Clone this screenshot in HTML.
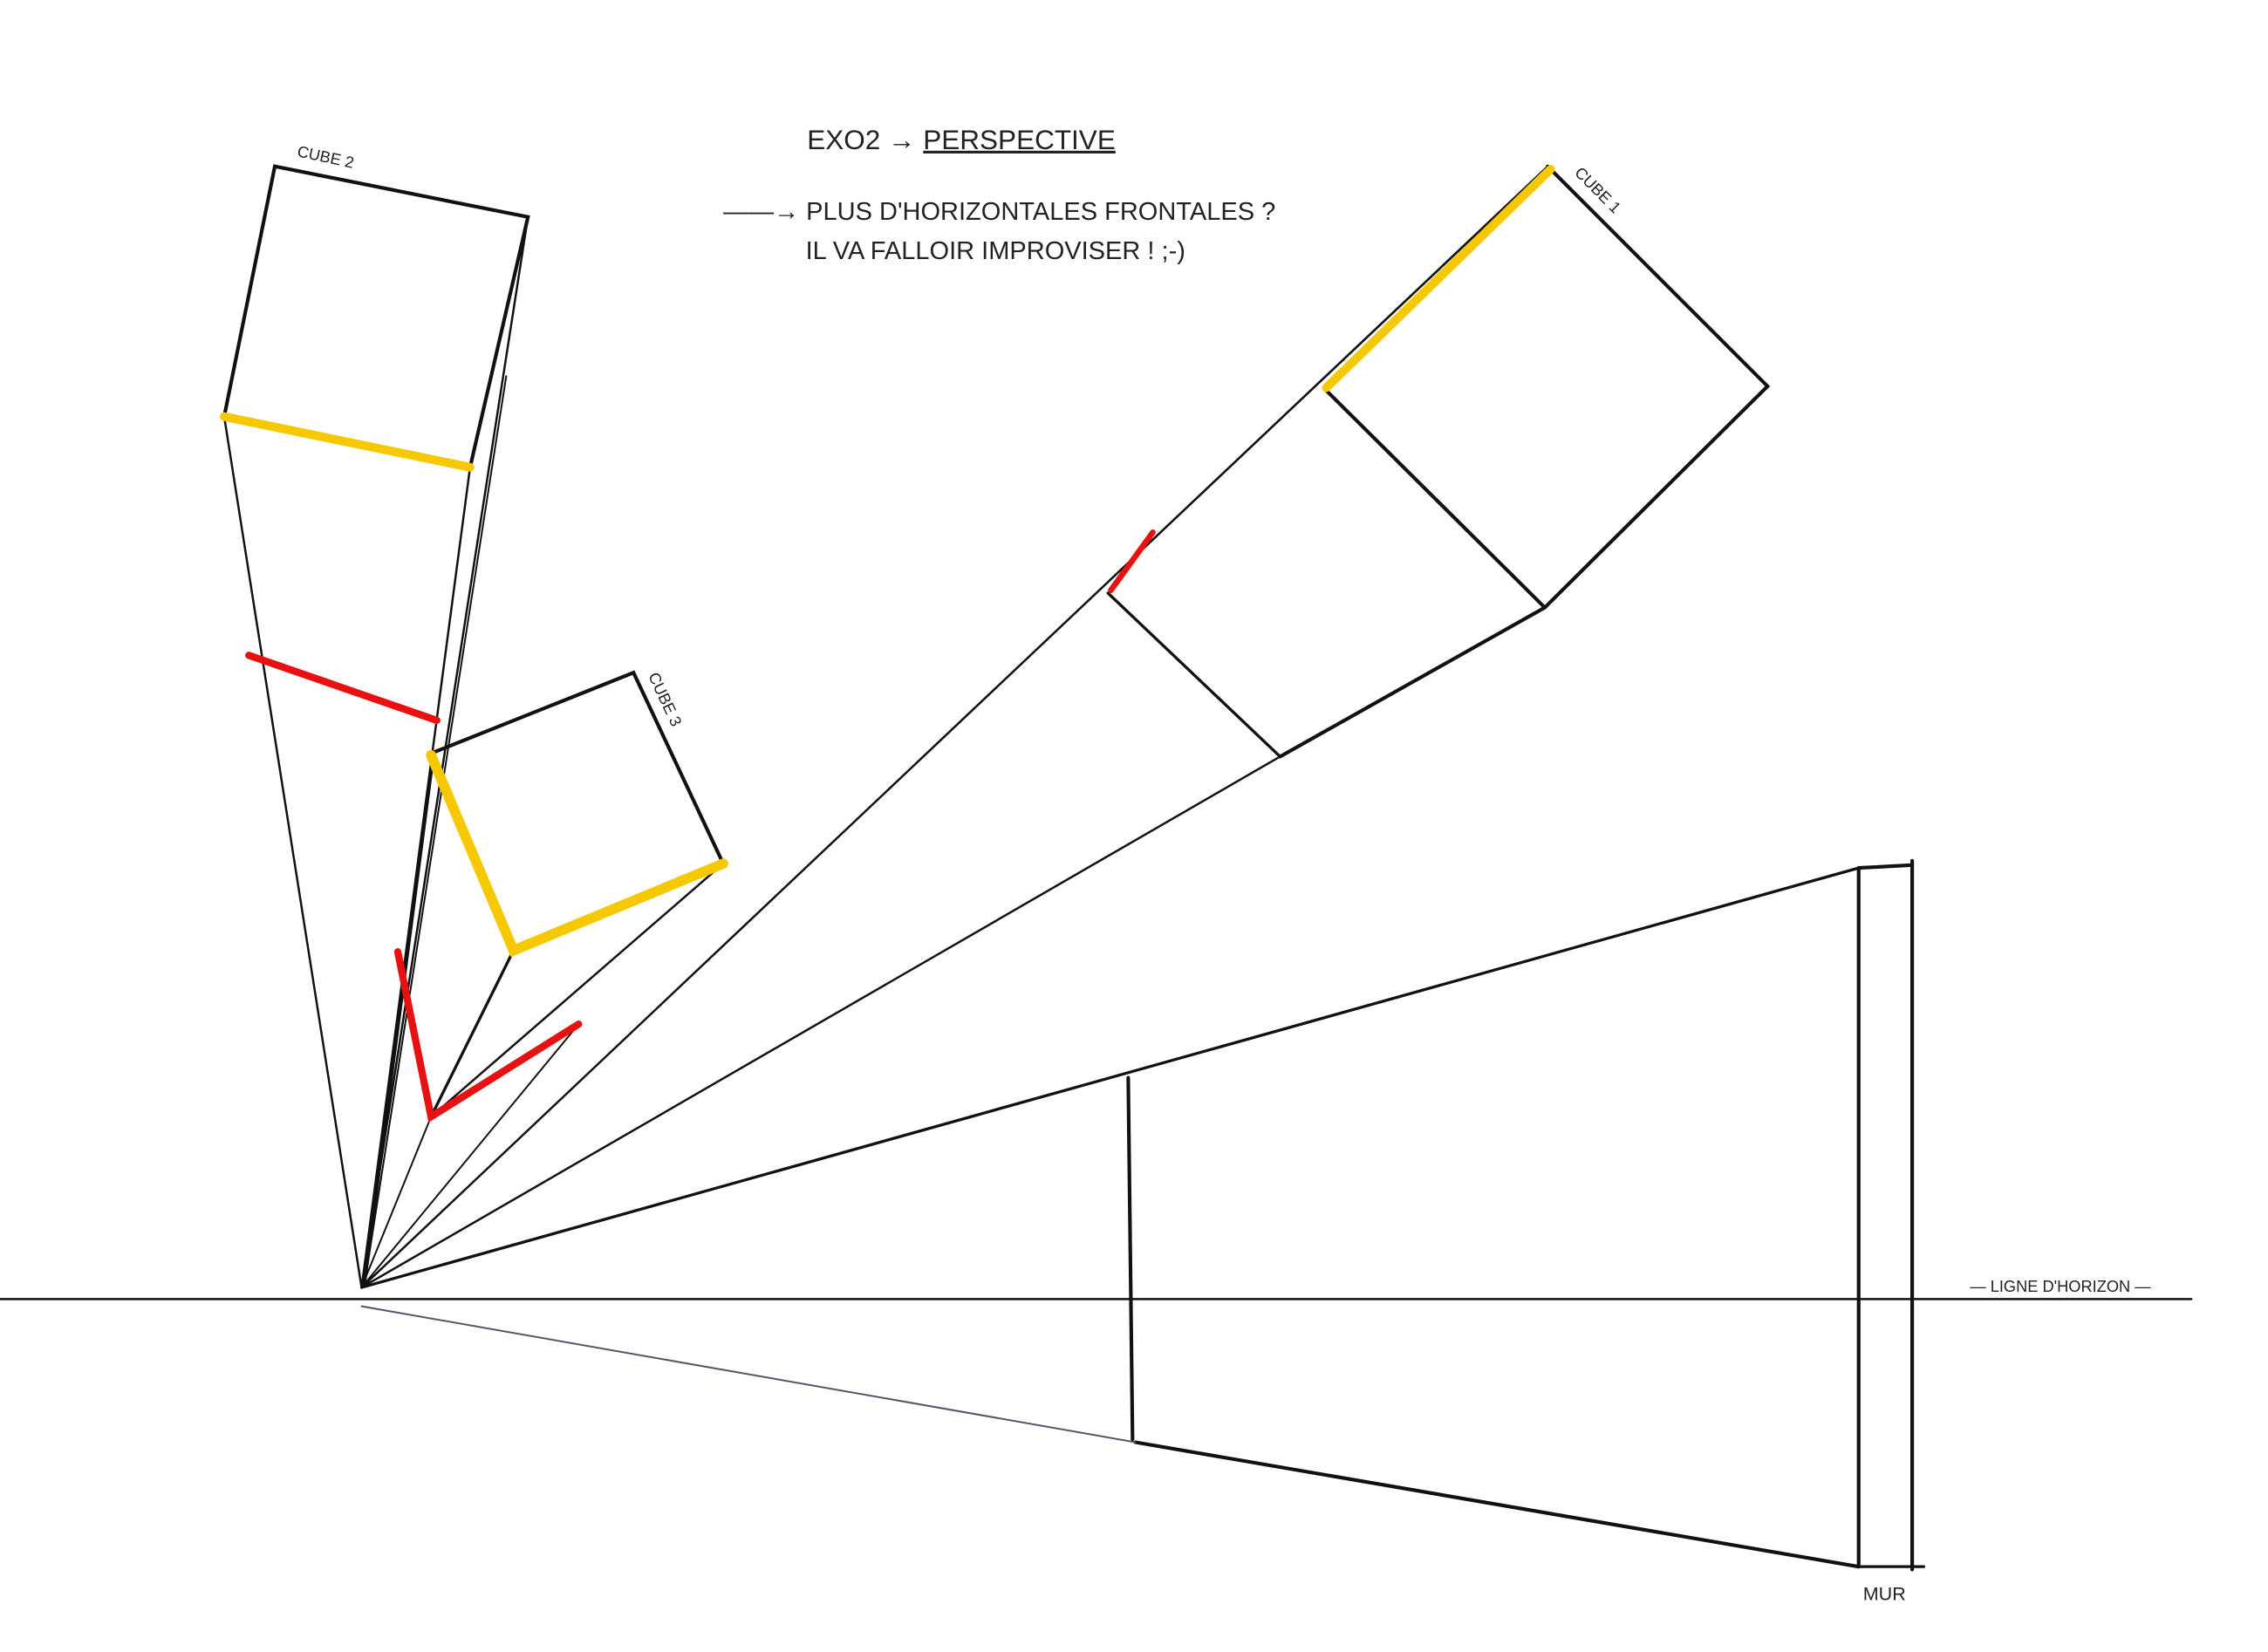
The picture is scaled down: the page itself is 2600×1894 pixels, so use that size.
<!DOCTYPE html>
<html><head><meta charset="utf-8"><style>
html,body{margin:0;padding:0;background:#fff;}
svg{display:block;}
text{font-family:"Liberation Sans",sans-serif;fill:#222;}
</style></head><body>
<svg width="2600" height="1894" viewBox="0 0 1568 1142" preserveAspectRatio="none" xmlns="http://www.w3.org/2000/svg">
<rect width="1568" height="1142" fill="#fff"/>
<g stroke="#111" fill="none" stroke-linecap="round">
<line x1="0" y1="898" x2="1515" y2="898" stroke-width="1.5"/>
<polyline points="155,288 190,115 365,150 325,323" stroke-width="2.5"/>
<line x1="155" y1="288" x2="250" y2="890" stroke-width="1.5"/>
<line x1="365" y1="150" x2="250" y2="890" stroke-width="1.5"/>
<line x1="325" y1="323" x2="250" y2="890" stroke-width="1.5"/>
<line x1="350" y1="260" x2="252" y2="888" stroke-width="1.2"/>
<polyline points="300,520 438,465 500,597" stroke-width="2.5"/>
<line x1="355" y1="657" x2="298" y2="772" stroke-width="2"/>
<line x1="500" y1="597" x2="298" y2="772" stroke-width="1.5"/>
<line x1="298" y1="772" x2="250" y2="890" stroke-width="1.2"/>
<line x1="400" y1="708" x2="250" y2="890" stroke-width="1.2"/>
<line x1="300" y1="520" x2="252" y2="888" stroke-width="2"/>
<polyline points="1070,115 1222,267 1068,420 885,523" stroke-width="2.5"/>
<polyline points="917,270 1068,420" stroke-width="2.5"/>
<polyline points="766,410 885,523" stroke-width="2"/>
<line x1="1070" y1="115" x2="250" y2="890" stroke-width="1.5"/>
<line x1="1060" y1="125" x2="252" y2="888" stroke-width="1"/>
<line x1="885" y1="523" x2="250" y2="890" stroke-width="1.5"/>
<line x1="1285" y1="600" x2="250" y2="890" stroke-width="2"/>
<line x1="1285" y1="600" x2="1322" y2="598" stroke-width="2.5"/>
<line x1="1285" y1="600" x2="1285" y2="1083" stroke-width="2.5"/>
<line x1="1322" y1="595" x2="1322" y2="1085" stroke-width="2.5"/>
<line x1="1285" y1="1083" x2="1330" y2="1083" stroke-width="2"/>
<line x1="785" y1="997" x2="1285" y2="1083" stroke-width="2.5"/>
<line x1="250" y1="903" x2="785" y2="997" stroke-width="1.2" stroke="#556"/>
<line x1="780" y1="745" x2="783" y2="995" stroke-width="2.5"/>
</g>
<g stroke-linecap="round" fill="none">
<line x1="155" y1="288" x2="325" y2="323" stroke="#f5c800" stroke-width="6"/>
<polyline points="298,522 355,657 500,597" stroke="#f5c800" stroke-width="7"/>
<line x1="917" y1="268" x2="1072" y2="117" stroke="#f5c800" stroke-width="6"/>
<line x1="172" y1="453" x2="302" y2="498" stroke="#e81010" stroke-width="5"/>
<polyline points="275,658 298,772 400,708" stroke="#e81010" stroke-width="5"/>
<line x1="768" y1="408" x2="797" y2="368" stroke="#e81010" stroke-width="4"/>
</g>
<text x="558" y="103" font-size="19">EXO2 → <tspan text-decoration="underline">PERSPECTIVE</tspan></text>
<text x="500" y="152" font-size="17.5">——→ PLUS D'HORIZONTALES FRONTALES ?</text>
<text x="557" y="179" font-size="17.5">IL VA FALLOIR IMPROVISER ! ;-)</text>
<text x="205" y="108" font-size="11" transform="rotate(12 205 108)">CUBE 2</text>
<text x="1088" y="120" font-size="11" transform="rotate(45 1088 120)">CUBE 1</text>
<text x="448" y="467" font-size="11" transform="rotate(65 448 467)">CUBE 3</text>
<text x="1362" y="893" font-size="11">— LIGNE D'HORIZON —</text>
<text x="1288" y="1106" font-size="13">MUR</text>
</svg>
</body></html>
